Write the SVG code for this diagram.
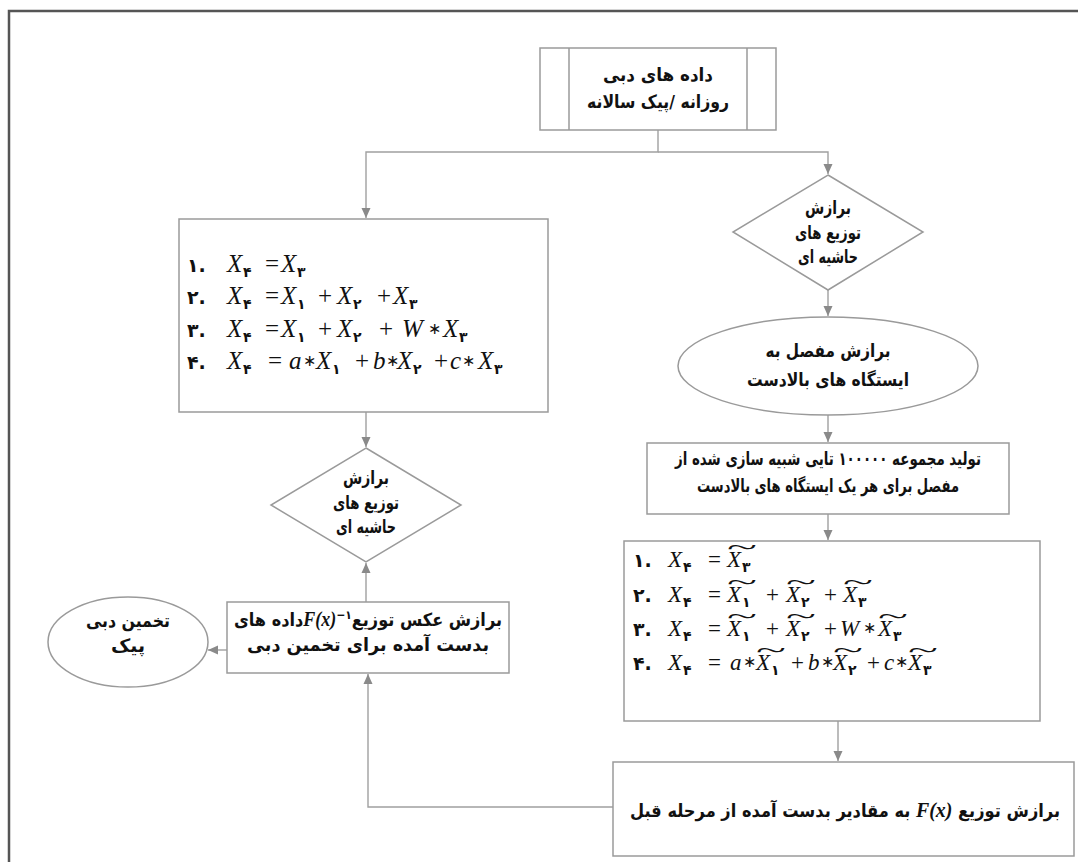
<svg xmlns="http://www.w3.org/2000/svg" width="1078" height="862" viewBox="0 0 1078 862">
<style>
.box{fill:#fff;stroke:#9a9a9a;stroke-width:1.5}
.fa{font-family:"DejaVu Sans",sans-serif;font-weight:bold;font-size:18px;fill:#111;text-anchor:middle;direction:rtl}
.conn path{fill:none;stroke:#a0a0a0;stroke-width:1.4}
.m{font-family:"Liberation Serif",serif;font-style:italic;font-size:25px;fill:#111}
.op{font-family:"Liberation Serif",serif;font-size:25px;fill:#111}
.ast{font-family:"DejaVu Sans",sans-serif;font-size:16px;fill:#111}
.num{font-family:"DejaVu Sans",sans-serif;font-weight:bold;font-size:19px;fill:#111}
.sub{font-family:"DejaVu Sans",sans-serif;font-weight:bold;font-size:14px;fill:#111}
.r .m,.r .op{font-size:23px}
.til{font-family:"Liberation Serif",serif;font-size:20px;fill:#111}
.fx{font-family:"Liberation Serif",serif;font-style:italic;font-weight:bold;fill:#111}
</style>
<defs>
<marker id="ah" markerUnits="userSpaceOnUse" markerWidth="10" markerHeight="10" refX="10" refY="5" orient="auto">
<path d="M0,0.5 L10,5 L0,9.5 z" fill="#8a8a8a"/>
</marker>
</defs>
<rect x="0" y="0" width="1078" height="862" fill="#fff"/>
<rect x="9" y="11" width="1100" height="900" fill="none" stroke="#555" stroke-width="2.5"/>

<g class="conn">
<path d="M658,130 V152 H366 V218" marker-end="url(#ah)"/>
<path d="M658,152 H828 V174" marker-end="url(#ah)"/>
<path d="M828,290 V316" marker-end="url(#ah)"/>
<path d="M828,415 V442" marker-end="url(#ah)"/>
<path d="M828,514 V540" marker-end="url(#ah)"/>
<path d="M838,721 V761" marker-end="url(#ah)"/>
<path d="M613,807 H368 V674" marker-end="url(#ah)"/>
<path d="M366,602 V563" marker-end="url(#ah)"/>
<path d="M366,412 V447" marker-end="url(#ah)"/>
<path d="M227,650 H208" marker-end="url(#ah)"/>
</g>

<g id="n-data">
<rect class="box" x="540" y="48" width="236" height="82"/>
<path d="M569,48 V130 M747,48 V130" fill="none" stroke="#9a9a9a" stroke-width="1.5"/>
<text class="fa" x="658" y="81" font-size="19" textLength="110" lengthAdjust="spacingAndGlyphs">داده های دبی</text>
<text class="fa" x="658" y="108" font-size="19" textLength="142" lengthAdjust="spacingAndGlyphs">روزانه /پیک سالانه</text>
</g>

<g id="n-diamond-right">
<polygon class="box" points="828,175 923,232 828,290 733,232"/>
<text class="fa" x="828" y="214" font-size="20" textLength="46" lengthAdjust="spacingAndGlyphs">برازش</text>
<text class="fa" x="828" y="239" font-size="20" textLength="66" lengthAdjust="spacingAndGlyphs">توزیع های</text>
<text class="fa" x="828" y="263" font-size="20" textLength="60" lengthAdjust="spacingAndGlyphs">حاشیه ای</text>
</g>

<g id="n-copula">
<ellipse class="box" cx="828" cy="366" rx="150" ry="49"/>
<text class="fa" x="828" y="357" font-size="19" textLength="125" lengthAdjust="spacingAndGlyphs">برازش مفصل به</text>
<text class="fa" x="828" y="386" font-size="19" textLength="162" lengthAdjust="spacingAndGlyphs">ایستگاه های بالادست</text>
</g>

<g id="n-simulate">
<rect class="box" x="647" y="443" width="362" height="71"/>
<text class="fa" x="828" y="465" textLength="306" lengthAdjust="spacingAndGlyphs">تولید مجموعه ۱۰۰۰۰۰ تایی شبیه سازی  شده از</text>
<text class="fa" x="828" y="492" textLength="262" lengthAdjust="spacingAndGlyphs">مفصل برای هر یک ایستگاه های بالادست</text>
</g>

<g id="n-formulas-right" class="r">
<rect class="box" x="624" y="541" width="416" height="180"/>
<text direction="ltr" y="567"><tspan class="num" x="633">۱.</tspan><tspan class="m" x="668">X</tspan><tspan class="sub" x="683" y="572">۴</tspan><tspan class="op" x="708" y="567">=</tspan><tspan class="m" x="727">X</tspan><tspan class="sub" x="742" y="572">۳</tspan></text>
<text class="til" x="727" y="554" textLength="30" lengthAdjust="spacingAndGlyphs">~</text>

<text direction="ltr" y="602"><tspan class="num" x="633">۲.</tspan><tspan class="m" x="668">X</tspan><tspan class="sub" x="683" y="607">۴</tspan><tspan class="op" x="708" y="602">=</tspan><tspan class="m" x="727">X</tspan><tspan class="sub" x="742" y="607">۱</tspan><tspan class="op" x="766" y="602">+</tspan><tspan class="m" x="786">X</tspan><tspan class="sub" x="801" y="607">۲</tspan><tspan class="op" x="824" y="602">+</tspan><tspan class="m" x="843">X</tspan><tspan class="sub" x="858" y="607">۳</tspan></text>
<text class="til" x="727" y="589" textLength="30" lengthAdjust="spacingAndGlyphs">~</text>
<text class="til" x="786" y="589" textLength="30" lengthAdjust="spacingAndGlyphs">~</text>
<text class="til" x="843" y="589" textLength="30" lengthAdjust="spacingAndGlyphs">~</text>

<text direction="ltr" y="636"><tspan class="num" x="633">۳.</tspan><tspan class="m" x="668">X</tspan><tspan class="sub" x="683" y="641">۴</tspan><tspan class="op" x="708" y="636">=</tspan><tspan class="m" x="727">X</tspan><tspan class="sub" x="742" y="641">۱</tspan><tspan class="op" x="766" y="636">+</tspan><tspan class="m" x="786">X</tspan><tspan class="sub" x="801" y="641">۲</tspan><tspan class="op" x="824" y="636">+</tspan><tspan class="m" x="840">W</tspan><tspan class="ast" x="863" y="633">∗</tspan><tspan class="m" x="878" y="636">X</tspan><tspan class="sub" x="893" y="641">۳</tspan></text>
<text class="til" x="727" y="623" textLength="30" lengthAdjust="spacingAndGlyphs">~</text>
<text class="til" x="786" y="623" textLength="30" lengthAdjust="spacingAndGlyphs">~</text>
<text class="til" x="878" y="623" textLength="30" lengthAdjust="spacingAndGlyphs">~</text>

<text direction="ltr" y="670"><tspan class="num" x="633">۴.</tspan><tspan class="m" x="668">X</tspan><tspan class="sub" x="683" y="675">۴</tspan><tspan class="op" x="708" y="670">=</tspan><tspan class="m" x="730">a</tspan><tspan class="ast" x="743" y="667">∗</tspan><tspan class="m" x="756" y="670">X</tspan><tspan class="sub" x="771" y="675">۱</tspan><tspan class="op" x="791" y="670">+</tspan><tspan class="m" x="808">b</tspan><tspan class="ast" x="821" y="667">∗</tspan><tspan class="m" x="833" y="670">X</tspan><tspan class="sub" x="848" y="675">۲</tspan><tspan class="op" x="867" y="670">+</tspan><tspan class="m" x="884">c</tspan><tspan class="ast" x="895" y="667">∗</tspan><tspan class="m" x="908" y="670">X</tspan><tspan class="sub" x="923" y="675">۳</tspan></text>
<text class="til" x="756" y="657" textLength="30" lengthAdjust="spacingAndGlyphs">~</text>
<text class="til" x="833" y="657" textLength="30" lengthAdjust="spacingAndGlyphs">~</text>
<text class="til" x="908" y="657" textLength="30" lengthAdjust="spacingAndGlyphs">~</text>
</g>

<g id="n-fit-final">
<rect class="box" x="613" y="762" width="461" height="94"/>
<text class="fa" x="845" y="817" font-size="19" textLength="430" lengthAdjust="spacingAndGlyphs">برازش توزیع <tspan class="fx" font-size="22">F(x)</tspan> به مقادیر بدست آمده از مرحله قبل</text>
</g>

<g id="n-formulas-left">
<rect class="box" x="179" y="219" width="369" height="193"/>
<text direction="ltr" y="272"><tspan class="num" x="187">۱.</tspan><tspan class="m" x="227">X</tspan><tspan class="sub" x="243" y="277">۴</tspan><tspan class="op" x="265" y="272">=</tspan><tspan class="m" x="281">X</tspan><tspan class="sub" x="297" y="277">۳</tspan></text>
<text direction="ltr" y="304"><tspan class="num" x="187">۲.</tspan><tspan class="m" x="227">X</tspan><tspan class="sub" x="243" y="309">۴</tspan><tspan class="op" x="265" y="304">=</tspan><tspan class="m" x="281">X</tspan><tspan class="sub" x="297" y="309">۱</tspan><tspan class="op" x="318" y="304">+</tspan><tspan class="m" x="337">X</tspan><tspan class="sub" x="353" y="309">۲</tspan><tspan class="op" x="377" y="304">+</tspan><tspan class="m" x="393">X</tspan><tspan class="sub" x="409" y="309">۳</tspan></text>
<text direction="ltr" y="337"><tspan class="num" x="187">۳.</tspan><tspan class="m" x="227">X</tspan><tspan class="sub" x="243" y="342">۴</tspan><tspan class="op" x="265" y="337">=</tspan><tspan class="m" x="281">X</tspan><tspan class="sub" x="297" y="342">۱</tspan><tspan class="op" x="318" y="337">+</tspan><tspan class="m" x="337">X</tspan><tspan class="sub" x="353" y="342">۲</tspan><tspan class="op" x="379" y="337">+</tspan><tspan class="m" x="402">W</tspan><tspan class="ast" x="428" y="334">∗</tspan><tspan class="m" x="443" y="337">X</tspan><tspan class="sub" x="459" y="342">۳</tspan></text>
<text direction="ltr" y="369"><tspan class="num" x="187">۴.</tspan><tspan class="m" x="227">X</tspan><tspan class="sub" x="243" y="374">۴</tspan><tspan class="op" x="268" y="369">=</tspan><tspan class="m" x="289">a</tspan><tspan class="ast" x="303" y="366">∗</tspan><tspan class="m" x="316" y="369">X</tspan><tspan class="sub" x="332" y="374">۱</tspan><tspan class="op" x="355" y="369">+</tspan><tspan class="m" x="373">b</tspan><tspan class="ast" x="386" y="366">∗</tspan><tspan class="m" x="397" y="369">X</tspan><tspan class="sub" x="413" y="374">۲</tspan><tspan class="op" x="434" y="369">+</tspan><tspan class="m" x="450">c</tspan><tspan class="ast" x="462" y="366">∗</tspan><tspan class="m" x="478" y="369">X</tspan><tspan class="sub" x="494" y="374">۳</tspan></text>
</g>

<g id="n-diamond-left">
<polygon class="box" points="366,448 461,505 366,562 271,505"/>
<text class="fa" x="366" y="484" font-size="20" textLength="46" lengthAdjust="spacingAndGlyphs">برازش</text>
<text class="fa" x="366" y="509" font-size="20" textLength="66" lengthAdjust="spacingAndGlyphs">توزیع های</text>
<text class="fa" x="366" y="533" font-size="20" textLength="60" lengthAdjust="spacingAndGlyphs">حاشیه ای</text>
</g>

<g id="n-inverse">
<rect class="box" x="227" y="602" width="282" height="71"/>
<text class="fa" x="368" y="626" font-size="18" textLength="268" lengthAdjust="spacingAndGlyphs">برازش عکس توزیع<tspan class="fx" font-size="20">F(x)</tspan><tspan font-size="12" baseline-shift="super">−۱</tspan>داده های</text>
<text class="fa" x="368" y="651" font-size="18" textLength="242" lengthAdjust="spacingAndGlyphs">بدست آمده برای تخمین دبی</text>
</g>

<g id="n-estimate">
<ellipse class="box" cx="128" cy="642" rx="80" ry="45"/>
<text class="fa" x="128" y="627" font-size="19" textLength="84" lengthAdjust="spacingAndGlyphs">تخمین دبی</text>
<text class="fa" x="128" y="652" font-size="19" textLength="34" lengthAdjust="spacingAndGlyphs">پیک</text>
</g>
</svg>
